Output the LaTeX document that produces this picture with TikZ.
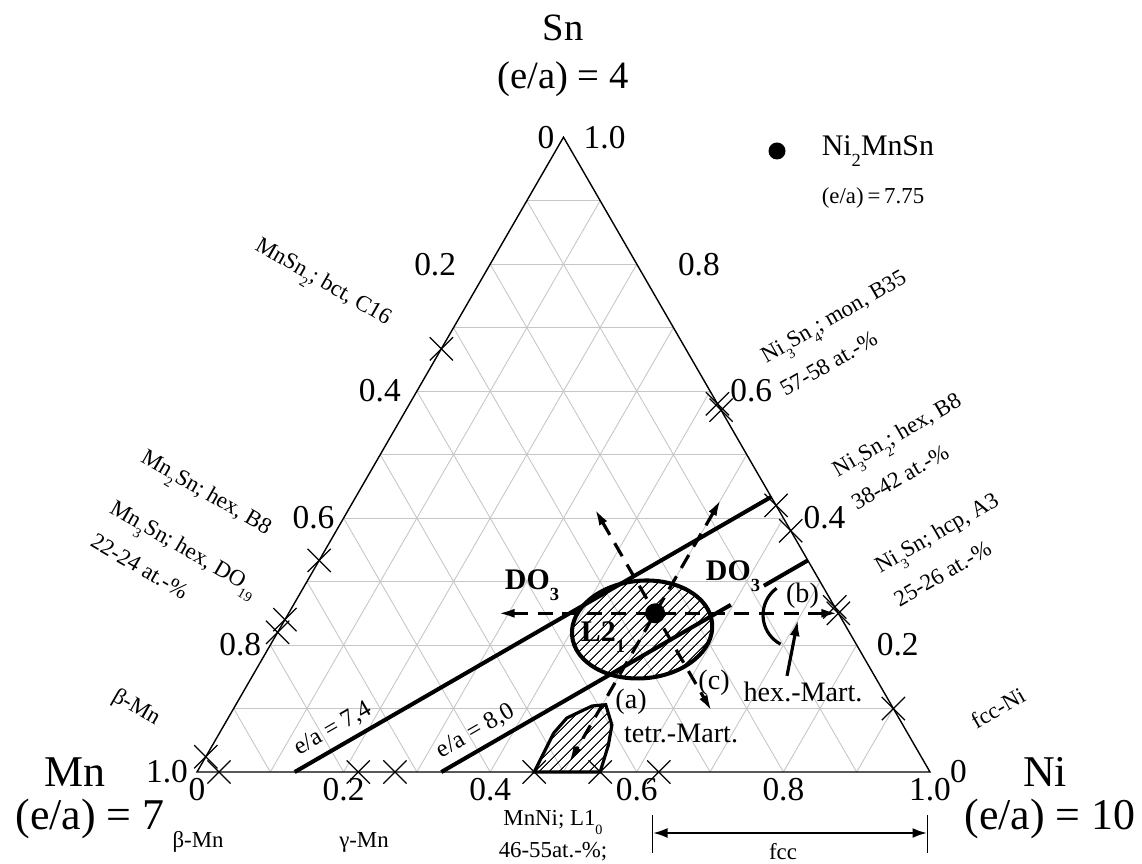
\documentclass[tikz,border=0pt]{standalone}
\usepackage{fontspec}
\setmainfont{Liberation Serif}
\usepackage{graphicx}
\usepackage{tikz}
\usetikzlibrary{arrows.meta, shapes.misc, patterns.meta, calc}

\newcommand{\subs}[1]{\raisebox{-0.8ex}{\scalebox{0.62}{#1}}}

\begin{document}
\begin{tikzpicture}[
    grid/.style={draw=gray!45, line width=0.5pt},
    edge/.style={draw, line width=0.8pt},
    xcross/.style={draw, cross out, minimum size=0.44cm, inner sep=0pt, line width=0.7pt},
    ealine/.style={line width=2.3pt},
    dline/.style={line width=1.8pt, dash pattern=on 8.5pt off 5.5pt,
        {Latex[length=3.4mm,width=1.8mm]}-{Latex[length=3.4mm,width=1.8mm]}},
    hatch/.style={pattern={Lines[angle=45,distance=4pt,line width=0.6pt]}},
    axnum/.style={font=\fontsize{19}{21}\selectfont},
    big/.style={font=\fontsize{22}{27}\selectfont, align=center},
    bigger/.style={font=\fontsize{25}{28}\selectfont},
    phase/.style={font=\fontsize{13}{22}\selectfont, align=left},
    small/.style={font=\fontsize{13}{18}\selectfont, align=center},
    reg/.style={font=\fontsize{16}{18}\selectfont},
    regb/.style={font=\fontsize{17}{18}\selectfont\bfseries},
    ealbl/.style={font=\fontsize{14}{16}\selectfont, sloped, above}
]
\useasboundingbox (0,0) rectangle (22.84,17.26);

\begin{scope}[shift={(3.94,1.82)}, x={(14.66cm,0cm)}, y={(7.33cm,12.696cm)}]
    \coordinate (mn) at (0,0);
    \coordinate (ni) at (1,0);
    \coordinate (sn) at (0,1);

    % grid
    \foreach \i in {0.1,0.2,...,0.9} {
        \draw[grid] (0,\i) -- ({1-\i},\i);
        \draw[grid] (\i,0) -- (\i,{1-\i});
        \draw[grid] (\i,0) -- (0,\i);
    }
    \draw[edge] (mn) -- (ni) -- (sn) -- cycle;

    % axis numbers
    \foreach \v/\t [count=\k] in {0/0,0.2/0.2,0.4/0.4,0.6/0.6,0.8/0.8,1/1.0}
        \node[axnum, anchor=north] (bn\k) at (\v,0) {\t};
    \foreach \s/\t/\d [count=\k] in {1/0/0,0.8/0.2/0.5,0.6/0.4/0.14,0.4/0.6/0,0.2/0.8/0,0/1.0/0}
        \node[axnum, anchor=east, xshift=-0.06cm-\d cm] (ln\k) at (0,\s) {\t};
    \foreach \s/\t/\d [count=\k] in {1/1.0/0,0.8/0.8/0.42,0.6/0.6/0,0.4/0.4/0,0.2/0.2/0,0/0/0}
        \node[axnum, anchor=west, xshift=0.28cm+\d cm] (rn\k) at ({1-\s},\s) {\t};

    % L2_1 region and tetragonal martensite
    \coordinate (l21) at (0.495,0.2245);
    \draw[line width=2.3pt, hatch, rotate around={5:(l21)}] (l21) ellipse [x radius=1.406cm, y radius=0.976cm];
    \draw[line width=1.8pt, hatch] (0.46,0) -- (0.4560,0.0614) -- (0.4620,0.0851) -- (0.4870,0.1040)
        -- (0.5046,0.106) -- (0.5290,0.074) -- (0.5400,0.0425) -- (0.55,0) -- cycle;

    % e/a lines
    \coordinate (e74a) at (2/15,0);
    \coordinate (e74b) at (17/30,13/30);
    \coordinate (e80a) at (1/3,0);
    \coordinate (e80b) at (2/3,1/3);
    \draw[ealine] (e74a) -- node[ealbl, pos=0.1] {e/a = 7,4} (e74b);
    \draw[ealine] (e80a) -- node[ealbl, pos=0.15] {e/a = 8,0} ($(e80a)!0.79!(e80b)$);
    \draw[ealine] ($(e80a)!0.88!(e80b)$) -- (e80b);

    % substitution paths
    \coordinate (hl) at (0.285,0.25);
    \coordinate (hr) at (0.75,0.25);
    \coordinate (mnt) at (0.335,0.415);
    \coordinate (mnb) at (0.655,0.095);
    \coordinate (nit) at (0.5,0.43);
    \coordinate (nib) at (0.5,0.015);
    \draw[dline] (hl) -- (hr);
    \draw[dline] (mnt) -- (mnb);
    \draw[dline] (nit) -- (nib);
    \node[circle, fill, inner sep=0pt, minimum size=0.4cm] (heusler) at (0.5,0.25) {};

    % (b) bracket and hex. martensite
    \coordinate (bc) at (0.6936,0.2473);
    \draw[line width=1.8pt] (bc) ++(126:0.66cm) arc [start angle=126, end angle=242, radius=0.66cm];
    \coordinate (hexh) at (0.700,0.2394);

    % phase marks
    \foreach \p [count=\k] in {(0.03,0),(0.22,0),(0.27,0),(0.46,0),(0.55,0),(0.63,0),
            (0,0.024),(0,0.22),(0,0.24),(0,1/3),(0,2/3),
            (0.43,0.57),(0.42,0.58),(0.62,0.38),(0.58,0.42),(0.75,0.25),(0.74,0.26),(0.9,0.1)}
        \node[xcross] (x\k) at \p {};
\end{scope}

% corner labels
\node[big] (sntitle) at (11.26,16.14) {Sn\\(e/a) = 4};
\node[bigger] (mnlbl) at (1.5,1.82) {Mn};
\node[bigger] (mnea) at (1.8,0.88) {(e/a) = 7};
\node[bigger] (nilbl) at (20.9,1.82) {Ni};
\node[bigger] (niea) at (21.0,0.88) {(e/a) = 10};

% legend
\node[circle, fill, inner sep=0pt, minimum size=0.34cm] (legdot) at (15.54,14.24) {};
\node[anchor=west, inner sep=0pt, font=\fontsize{17}{19}\selectfont] (legname) at (16.43,14.24) {Ni\subs{2}MnSn};
\node[anchor=west, inner sep=0pt, font=\fontsize{13}{15}\selectfont] (legea) at (16.43,13.3) {(e/a)\,=\,7.75};

% phases on the edges
\node[phase, rotate=-30] (mnsn2) at (6.44,11.58) {MnSn\subs{2}; bct, C16};
\node[phase, rotate=-30] (mn2sn) at (4.1,7.36) {Mn\subs{2}Sn; hex, B8};
\node[phase, rotate=-30] (mn3sn) at (3.5,5.98) {Mn\subs{3}Sn; hex, DO\subs{19}\\22-24 at.-\%};
\node[phase, rotate=-30] (bmnside) at (2.72,3.1) {β-Mn};
\node[phase, rotate=30] (ni3sn4) at (16.86,10.6) {Ni\subs{3}Sn\subs{4}; mon, B35\\57-58 at.-\%};
\node[phase, rotate=30] (ni3sn2) at (18.12,8.24) {Ni\subs{3}Sn\subs{2}; hex, B8\\38-42 at.-\%};
\node[phase, rotate=30] (ni3sn) at (18.92,6.28) {Ni\subs{3}Sn; hcp, A3\\25-26 at.-\%};
\node[phase, rotate=30] (fccni) at (19.96,3.1) {fcc-Ni};
\node[small] (bmn) at (3.96,0.42) {β-Mn};
\node[small] (gmn) at (7.28,0.42) {γ-Mn};
\node[small] (mnni) at (11.06,0.54) {MnNi; L1\subs{0}\\46-55at.-\%;};

% fcc range
\coordinate (fccl) at (13.05,0.6);
\coordinate (fccr) at (18.55,0.6);
\draw[line width=0.8pt] (fccl) ++(0,0.36) -- ++(0,-0.76);
\draw[line width=0.8pt] (fccr) ++(0,0.36) -- ++(0,-0.76);
\draw[line width=1.6pt, {Latex[length=3mm,width=2mm]}-{Latex[length=3mm,width=2mm]}] (fccl) -- (fccr);
\node[small] (fcclbl) at (15.66,0.22) {fcc};

% labels inside
\node[regb] (do3l) at (10.64,5.56) {DO\subs{3}};
\node[regb] (do3r) at (14.66,5.74) {DO\subs{3}};
\node[regb] (l21lbl) at (12.06,4.52) {L2\subs{1}};
\node[reg] (alb) at (12.62,3.22) {(a)};
\node[reg] (blb) at (16.05,5.34) {(b)};
\node[reg] (clb) at (14.28,3.6) {(c)};
\node[reg] (hexlbl) at (16.06,3.42) {hex.-Mart.};
\node[reg] (tetlbl) at (13.62,2.6) {tetr.-Mart.};
\draw[line width=1.8pt, -{Latex[length=3.2mm,width=2mm]}] ([xshift=-0.32cm]hexlbl.north) -- (hexh);
\end{tikzpicture}
\end{document}
